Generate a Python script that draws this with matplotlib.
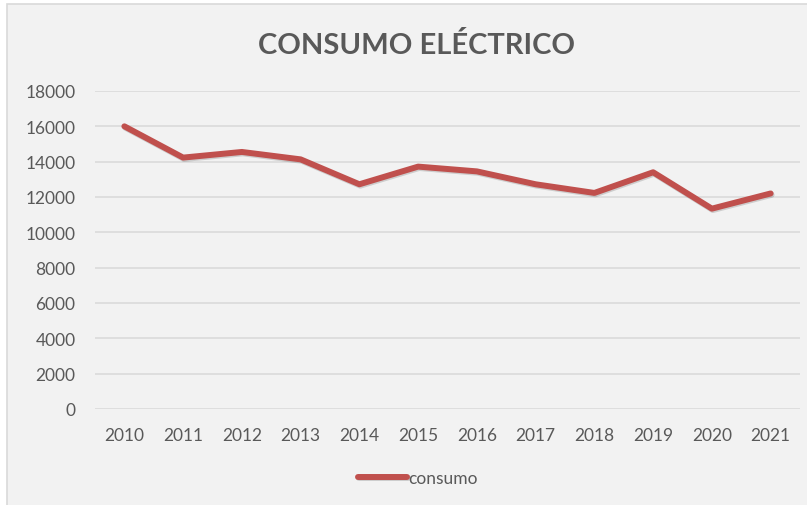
import matplotlib.pyplot as plt
import matplotlib.patheffects as pe
from matplotlib.patches import Rectangle

years = ['2010', '2011', '2012', '2013', '2014', '2015',
         '2016', '2017', '2018', '2019', '2020', '2021']
consumo = [16000, 14230, 14550, 14130, 12720, 13720,
           13450, 12720, 12230, 13400, 11340, 12200]
y_ticks = [0, 2000, 4000, 6000, 8000, 10000, 12000, 14000, 16000, 18000]

BG = '#f2f2f2'
GRID = '#d9d9d9'
TEXT = '#595959'
RED = '#c0504d'

plt.rcParams['font.family'] = ['Lato', 'DejaVu Sans']

fig = plt.figure(figsize=(8.07, 5.06), dpi=100, facecolor='white')

# chart frame
frame = Rectangle((7 / 807, -0.01), 1.0, 1 - 5 / 506 + 0.01,
                  transform=fig.transFigure, facecolor=BG,
                  edgecolor=GRID, linewidth=1.2, zorder=-10)
fig.patches.append(frame)

ax = fig.add_axes([95 / 807, 1 - 410 / 506, 705 / 807, 318 / 506])
ax.set_facecolor(BG)
ax.set_zorder(1)

x = range(len(years))
ax.plot(x, consumo, color=RED, linewidth=4.3, solid_capstyle='round',
        solid_joinstyle='round', label='consumo',
        path_effects=[pe.SimpleLineShadow(offset=(0.7, -1.0), alpha=0.15),
                      pe.Normal()])

ax.set_xlim(-0.5, len(years) - 0.5)
ax.set_ylim(0, 18000)
ax.set_xticks(list(x))
ax.set_xticklabels(years)
ax.set_yticks(y_ticks)
ax.set_yticklabels([str(v) for v in y_ticks])

ax.grid(axis='y', color=GRID, linewidth=1.1)
ax.set_axisbelow(True)
for s in ax.spines.values():
    s.set_visible(False)
ax.tick_params(length=0, colors=TEXT, labelsize=12.5)
ax.tick_params(axis='x', pad=13)
ax.tick_params(axis='y', pad=14)

fig.text(417 / 807, 1 - 45 / 506, 'CONSUMO ELÉCTRICO', ha='center',
         va='center', fontsize=21, fontweight='bold', color=TEXT)

leg = ax.legend(loc='center', bbox_to_anchor=(418 / 807, 1 - 479 / 506),
                bbox_transform=fig.transFigure, frameon=False,
                handlelength=2.8, handletextpad=0.1, fontsize=12.5)
for t in leg.get_texts():
    t.set_color(TEXT)

fig.savefig('out.png', dpi=100, facecolor='white')
